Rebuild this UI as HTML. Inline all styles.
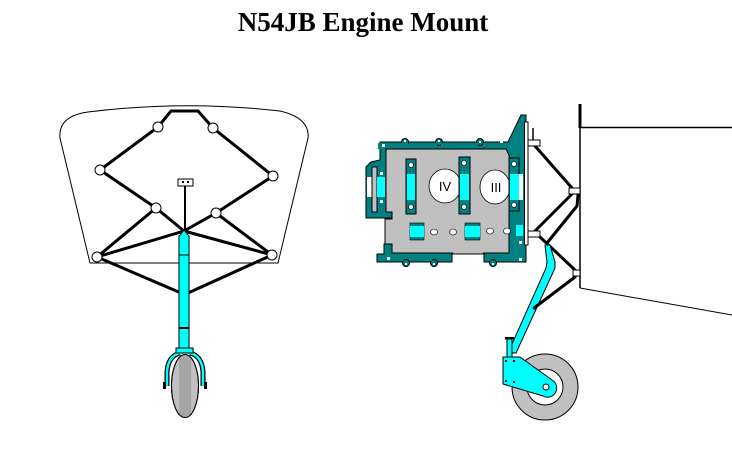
<!DOCTYPE html>
<html>
<head>
<meta charset="utf-8">
<style>
html,body{margin:0;padding:0;background:#fff;}
body{width:732px;height:451px;overflow:hidden;}
svg{display:block;}
</style>
</head>
<body>
<svg width="732" height="451" viewBox="0 0 732 451" xmlns="http://www.w3.org/2000/svg">
<rect width="732" height="451" fill="#fff"/>
<text x="363" y="31" text-anchor="middle" font-family="Liberation Serif, serif" font-weight="bold" font-size="27" fill="#000">N54JB Engine Mount</text>

<!-- LEFT: front view -->
<path d="M90,263 L60,138 Q58,116 88,112 Q184,100 280,111 Q310,118 308,138 L278,263 Z" fill="none" stroke="#000" stroke-width="1"/>
<g stroke="#000" stroke-width="3" fill="none" stroke-linecap="round">
  <path d="M158,127 L171,111 L198,111 L213,128"/>
  <path d="M158,127 L100,170 L156,208 L184,231"/>
  <path d="M213,128 L273,176 L216,213 L184,231"/>
  <path d="M156,208 L97,257 L184,231"/>
  <path d="M216,213 L272,255 L184,231"/>
  <path d="M97,257 L181,293"/>
  <path d="M272,255 L188,293"/>
</g>
<line x1="185" y1="186" x2="185" y2="231" stroke="#000" stroke-width="2"/>
<rect x="178" y="179" width="15" height="7" fill="#fff" stroke="#000" stroke-width="1"/>
<rect x="182" y="181" width="2" height="2" fill="#000"/>
<rect x="187" y="181" width="2" height="2" fill="#000"/>
<g fill="#fff" stroke="#000" stroke-width="1">
  <circle cx="158" cy="127" r="5"/>
  <circle cx="213" cy="128" r="5"/>
  <circle cx="100" cy="170" r="5"/>
  <circle cx="273" cy="176" r="5"/>
  <circle cx="156" cy="208" r="5"/>
  <circle cx="216" cy="213" r="5"/>
  <circle cx="97" cy="257" r="5"/>
  <circle cx="272" cy="255" r="5"/>
</g>
<!-- strut tube -->
<polygon points="184,230 189,236 189,349 179,349 179,236" fill="#00ffff" stroke="#000" stroke-width="1"/>
<line x1="179" y1="255" x2="189" y2="255" stroke="#000" stroke-width="1"/>
<line x1="179" y1="328" x2="189" y2="328" stroke="#000" stroke-width="2"/>
<!-- wheel -->
<defs>
  <clipPath id="wc"><ellipse cx="185" cy="386" rx="13.5" ry="31.5"/></clipPath>
</defs>
<ellipse cx="185" cy="386" rx="13.5" ry="31.5" fill="#c0c0c0" stroke="#000" stroke-width="1"/>
<g clip-path="url(#wc)">
  <rect x="179" y="350" width="12" height="72" fill="#fff"/>
  <g stroke="#000" stroke-width="0.7">
    <line x1="180" y1="350" x2="180" y2="422"/>
    <line x1="182" y1="350" x2="182" y2="422"/>
    <line x1="184" y1="350" x2="184" y2="422"/>
    <line x1="186" y1="350" x2="186" y2="422"/>
    <line x1="188" y1="350" x2="188" y2="422"/>
    <line x1="190" y1="350" x2="190" y2="422"/>
  </g>
</g>
<ellipse cx="185" cy="386" rx="13.5" ry="31.5" fill="none" stroke="#000" stroke-width="1"/>
<!-- fork -->
<g fill="none" stroke-linecap="butt">
  <path d="M180,353 Q168,356 167,372 L167,386" stroke="#000" stroke-width="5"/>
  <path d="M180,353 Q168,356 167,372 L167,386" stroke="#00ffff" stroke-width="2.5"/>
  <path d="M190,353 Q202,356 203,372 L203,386" stroke="#000" stroke-width="5"/>
  <path d="M190,353 Q202,356 203,372 L203,386" stroke="#00ffff" stroke-width="2.5"/>
</g>
<rect x="163" y="382" width="3" height="7" fill="#000"/>
<rect x="204" y="382" width="3" height="7" fill="#000"/>
<rect x="176" y="348" width="17" height="5" fill="#00ffff" stroke="#000" stroke-width="1"/>

<!-- RIGHT: side view -->
<line x1="580" y1="104" x2="580" y2="128" stroke="#000" stroke-width="3"/>
<line x1="580" y1="127.5" x2="732" y2="127.5" stroke="#000" stroke-width="1.5"/>
<line x1="580" y1="127" x2="580" y2="288" stroke="#000" stroke-width="1.5"/>
<line x1="580" y1="288" x2="732" y2="315" stroke="#000" stroke-width="1"/>

<!-- engine -->
<polygon points="380,142 508,142 521,115 526,115 526,262 484,262 484,254 452,254 452,262 377,262 377,254 384,254 384,244 392,244 392,218 366,218 366,167 371,162 380,160" fill="#008080" stroke="#000" stroke-width="1"/>
<!-- bolt bumps -->
<g fill="#008080" stroke="#000" stroke-width="1">
  <circle cx="405" cy="142" r="3.5"/>
  <circle cx="439" cy="142" r="3.5"/>
  <circle cx="480" cy="142" r="3.5"/>
  <circle cx="406" cy="263" r="3.5"/>
  <circle cx="434" cy="263" r="3.5"/>
  <circle cx="493" cy="263" r="3.5"/>
</g>
<rect x="378" y="143" width="30" height="6" fill="#008080"/>
<rect x="409" y="143" width="28" height="6" fill="#008080"/>
<rect x="441" y="143" width="37" height="6" fill="#008080"/>
<rect x="483" y="143" width="24" height="6" fill="#008080"/>
<rect x="378" y="255" width="26" height="6" fill="#008080"/>
<rect x="409" y="255" width="23" height="6" fill="#008080"/>
<rect x="437" y="255" width="14" height="6" fill="#008080"/>
<rect x="485" y="255" width="6" height="6" fill="#008080"/>
<rect x="496" y="255" width="29" height="6" fill="#008080"/>
<g fill="#fff">
  <rect x="404" y="140" width="2" height="2"/>
  <rect x="438" y="140" width="2" height="2"/>
  <rect x="479" y="141" width="2" height="2"/>
  <rect x="405" y="263" width="2" height="2"/>
  <rect x="433" y="263" width="2" height="2"/>
  <rect x="492" y="263" width="2" height="2"/>
  <rect x="382" y="144" width="3" height="3"/>
  <rect x="500" y="140" width="3" height="3"/>
  <rect x="380" y="172" width="3" height="3"/>
  <rect x="380" y="200" width="3" height="3"/>
  <rect x="387" y="257" width="3" height="3"/>
  <rect x="519" y="258" width="3" height="3"/>
  <rect x="519" y="241" width="3" height="3"/>
</g>
<!-- grey body -->
<polygon points="386,149 506,149 509,155 509,253 392,253 392,244 385,244 385,219 392,219 392,212 386,212" fill="#c0c0c0" stroke="#000" stroke-width="1"/>
<rect x="453" y="250" width="30" height="4" fill="#c0c0c0"/>
<line x1="452" y1="254" x2="484" y2="254" stroke="#000" stroke-width="1"/>
<!-- left protrusion details -->
<rect x="367" y="177" width="6" height="20" fill="#fff"/>
<rect x="372" y="167" width="5" height="45" fill="#c0c0c0" stroke="#000" stroke-width="1"/>
<rect x="377" y="177" width="8" height="20" fill="#00ffff"/>
<!-- cylinders -->
<ellipse cx="445" cy="186" rx="16" ry="17" fill="#fff" stroke="#000" stroke-width="0.8"/>
<ellipse cx="495" cy="187" rx="15" ry="17" fill="#fff" stroke="#000" stroke-width="0.8"/>
<text x="445" y="191" text-anchor="middle" font-family="Liberation Sans, sans-serif" font-size="13" fill="#000">IV</text>
<text x="496" y="192" text-anchor="middle" font-family="Liberation Sans, sans-serif" font-size="13" fill="#000">III</text>
<!-- bars -->
<g stroke="#000" stroke-width="1">
  <rect x="406" y="159" width="10" height="55" fill="#008080"/>
  <rect x="459" y="157" width="11" height="57" fill="#008080"/>
  <rect x="509" y="158" width="10" height="53" fill="#008080"/>
</g>
<g fill="#00ffff">
  <rect x="407" y="174" width="8" height="26"/>
  <rect x="460" y="174" width="9" height="26"/>
  <rect x="510" y="174" width="9" height="26"/>
</g>
<rect x="519" y="174" width="4" height="26" fill="#fff"/>
<g fill="#fff" stroke="#000" stroke-width="0.6">
  <circle cx="411" cy="165" r="2.5"/>
  <circle cx="411" cy="207" r="2.5"/>
  <circle cx="464" cy="163" r="2.5"/>
  <circle cx="464" cy="207" r="2.5"/>
  <circle cx="514" cy="164" r="2.5"/>
  <circle cx="514" cy="205" r="2.5"/>
</g>
<!-- lower row -->
<rect x="410" y="223" width="14" height="17" fill="#008080" stroke="#000" stroke-width="0.6"/>
<rect x="410" y="226" width="14" height="11" fill="#00ffff"/>
<rect x="465" y="223" width="15" height="17" fill="#008080" stroke="#000" stroke-width="0.6"/>
<rect x="465" y="226" width="15" height="11" fill="#00ffff"/>
<rect x="516" y="225" width="7" height="11" fill="#00ffff"/>
<g fill="#fff" stroke="#000" stroke-width="0.6">
  <ellipse cx="434" cy="232" rx="3.5" ry="3"/>
  <ellipse cx="453" cy="232" rx="3.5" ry="3"/>
  <ellipse cx="490" cy="231" rx="3.5" ry="3"/>
  <ellipse cx="507" cy="231" rx="3.5" ry="3"/>
</g>
<!-- back plate -->
<rect x="524.5" y="122" width="3.5" height="123" fill="#fff" stroke="#000" stroke-width="1"/>

<!-- mount struts -->
<line x1="533" y1="128" x2="533" y2="140" stroke="#000" stroke-width="1.5"/>
<g stroke="#000" stroke-width="3" fill="none" stroke-linecap="round">
  <line x1="535" y1="146" x2="572" y2="188"/>
  <line x1="535" y1="231" x2="572" y2="194"/>
  <line x1="540" y1="237" x2="575" y2="270"/>
  <path d="M578,195 L577,206 L547,243"/>
</g>
<!-- cyan leg -->
<polygon points="545,245 550,245 555,262 555,268 516,353 508,353 546,268 547,262" fill="#00ffff" stroke="#000" stroke-width="1"/>
<!-- wheel -->
<circle cx="545" cy="387" r="33" fill="#c0c0c0" stroke="#000" stroke-width="1"/>
<circle cx="545" cy="387" r="18" fill="#fff" stroke="#000" stroke-width="1"/>
<!-- post -->
<rect x="507" y="339" width="5" height="18" fill="#00ffff" stroke="#000" stroke-width="1"/>
<rect x="505" y="337" width="9" height="2.5" fill="#000"/>
<!-- axle plate -->
<path d="M503,357 L520,357 L552,380 A8,8 0 0 1 543,396 L503,384 Z" fill="#00ffff" stroke="#000" stroke-width="1"/>
<circle cx="546" cy="387" r="3" fill="#fff" stroke="#000" stroke-width="1"/>
<g fill="#000">
  <rect x="505" y="360" width="2" height="2"/>
  <rect x="513" y="360" width="2" height="2"/>
  <rect x="505" y="380" width="2" height="2"/>
  <rect x="513" y="381" width="2" height="2"/>
</g>
<line x1="575" y1="277" x2="534" y2="308" stroke="#000" stroke-width="3" stroke-linecap="round"/>
<!-- mount blocks -->
<g fill="#fff" stroke="#000" stroke-width="1">
  <rect x="528" y="140" width="12" height="6"/>
  <rect x="528" y="231" width="12" height="6"/>
  <rect x="569" y="188" width="11" height="6"/>
  <rect x="573" y="270" width="7" height="6"/>
</g>
</svg>
</body>
</html>
